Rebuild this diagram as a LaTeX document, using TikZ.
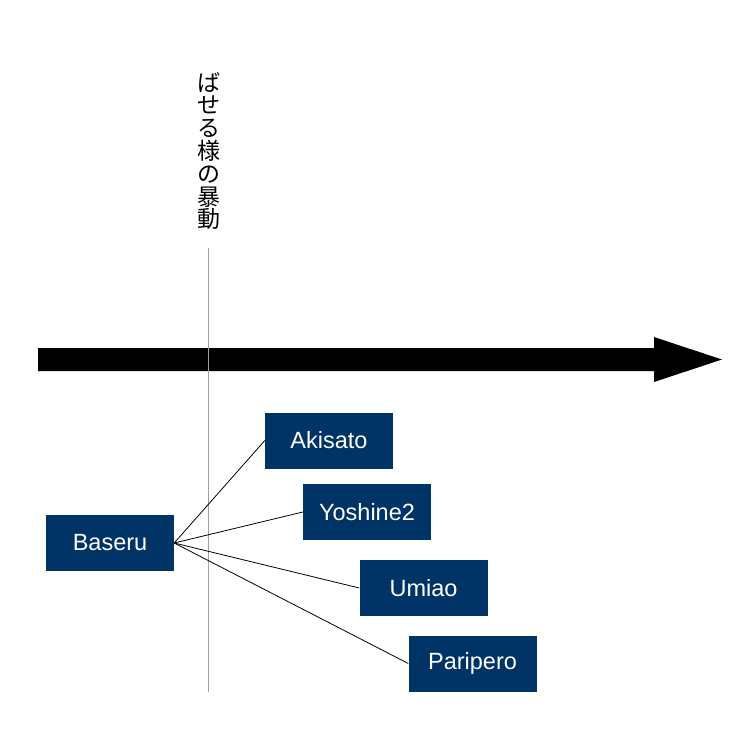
\documentclass[tikz,border=0pt]{standalone}
\usepackage{fontspec}
\setmainfont{Liberation Sans}
\newfontfamily\cjk{Noto Sans CJK JP}
\definecolor{boxblue}{RGB}{0,51,102}
\definecolor{guide}{RGB}{160,160,160}
\tikzset{
  namebox/.style={fill=boxblue, text=white, minimum width=128pt, minimum height=56pt, inner sep=0pt, font=\fontsize{23.5}{27}\selectfont},
  link/.style={draw=black, line width=0.8pt}
}
\begin{document}
\begin{tikzpicture}[x=1pt,y=-1pt]
\useasboundingbox[fill=white] (0,0) rectangle (756,756);
% vertical title
\node[align=center, inner sep=0pt, font=\cjk\fontsize{23}{22.8}\selectfont] (title) at (209,151) {ば\\せ\\る\\様\\の\\暴\\動};
% timeline arrow
\fill[black] (38,348) -- (654,348) -- (654,337) -- (722,359.5) -- (654,382) -- (654,371) -- (38,371) -- cycle;
% guide line
\coordinate (gtop) at (208,248);
\coordinate (gbot) at (208,692);
\draw[guide, line width=1pt] (gtop) -- (gbot);
% boxes
\node[namebox] (baseru) at (110,543) {Baseru};
\node[namebox] (akisato) at (329,440.5) {Akisato};
\node[namebox] (yoshine) at (367,512) {Yoshine2};
\node[namebox] (umiao) at (423.5,588) {Umiao};
\node[namebox] (paripero) at (472.5,663.5) {Paripero};
% links
\draw[link] (baseru.east) -- (akisato.west);
\draw[link] (baseru.east) -- (yoshine.west);
\draw[link] (baseru.east) -- (umiao.west);
\draw[link] (baseru.east) -- (paripero.west);
\end{tikzpicture}
\end{document}
